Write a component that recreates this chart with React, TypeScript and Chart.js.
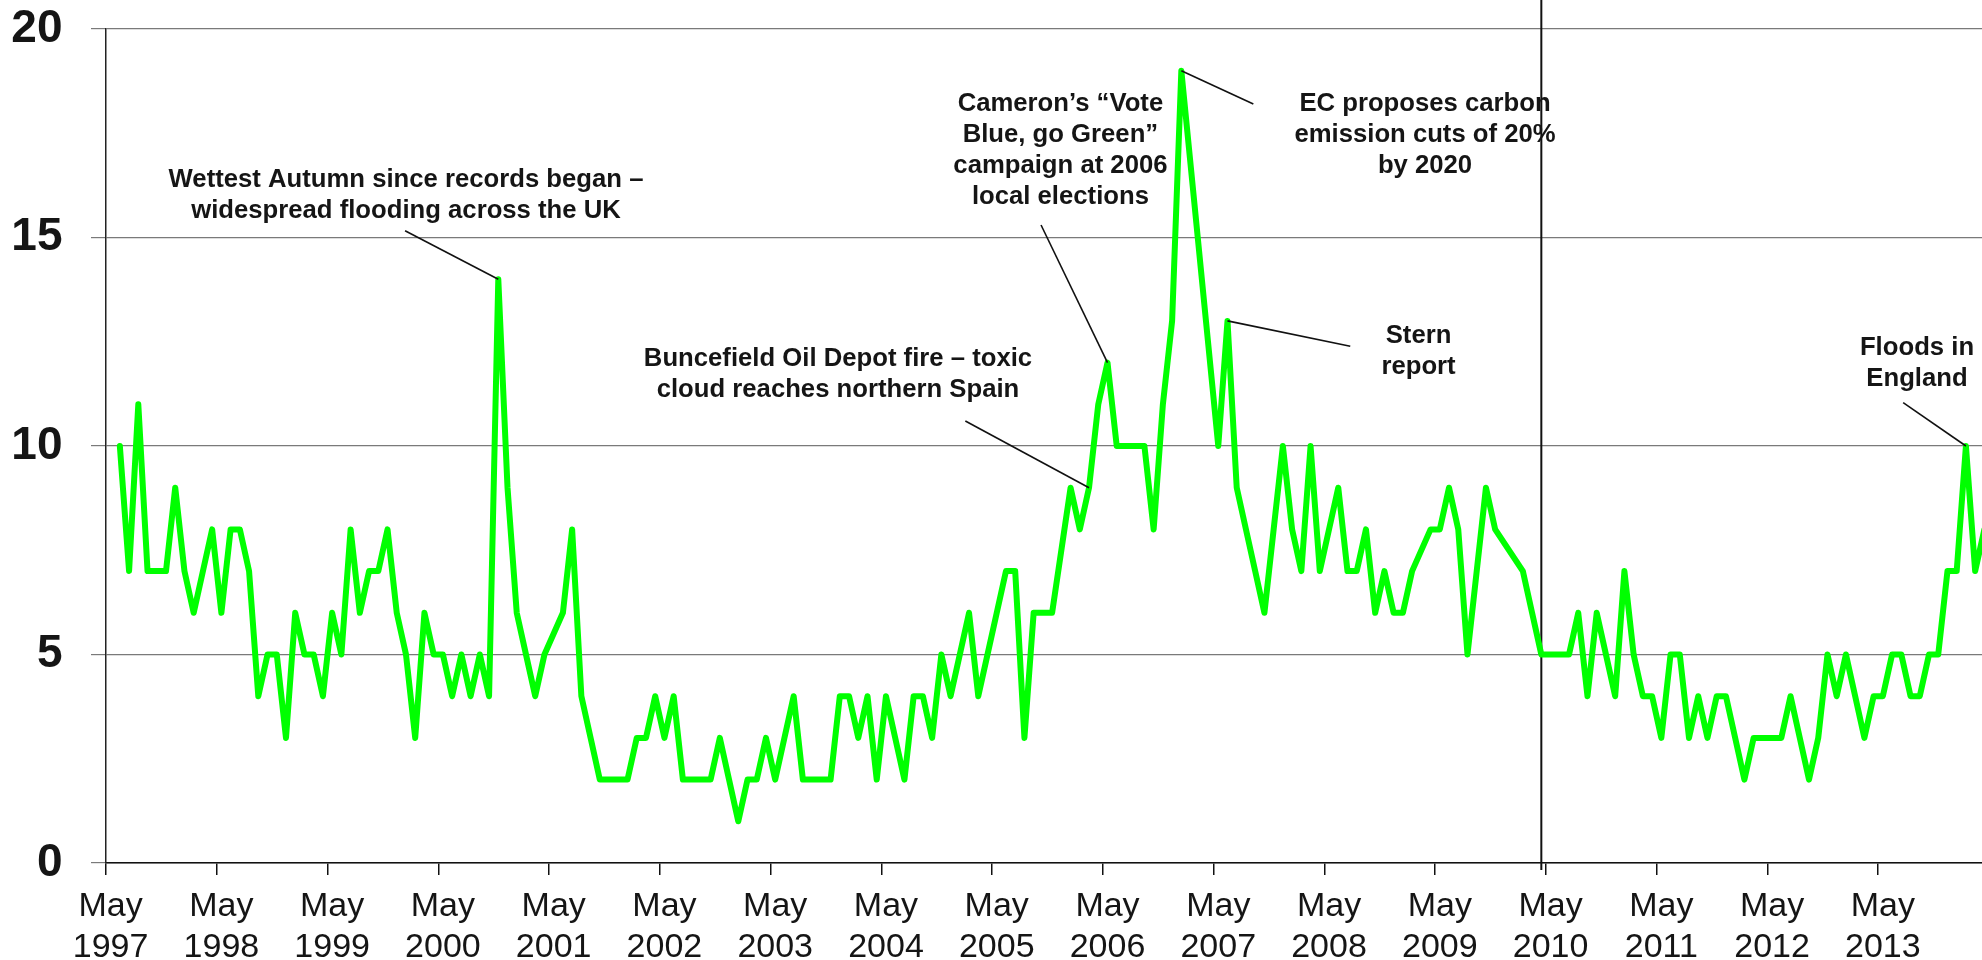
import React, { useEffect, useRef } from "react";
import { Chart, registerables } from "chart.js";

Chart.register(...registerables);

// ---------- data ----------
const START_YEAR = 1997;
const MONTH_NAMES = ["Jan", "Feb", "Mar", "Apr", "May", "Jun", "Jul", "Aug", "Sep", "Oct", "Nov", "Dec"];
const START_MONTH = 4; // May 1997 is the first category
const MONTH_COUNT = 204;

// Monthly values from June 1997 (null = month without a reading, line is joined across it)
const values: (number | null)[] = [
  10, 7, 11, 7, 7, 7, 9, 7, 6, 7, 8, 6,
  8, 8, 7, 4, 5, 5, 3, 6, 5, 5, 4, 6,
  5, 8, 6, 7, 7, 8, 6, 5, 3, 6, 5, 5,
  4, 5, 4, 5, 4, 14, 9, 6, 5, 4, 5, null,
  6, 8, 4, 3, 2, 2, 2, 2, 3, 3, 4, 3,
  4, 2, 2, 2, 2, 3, 2, 1, 2, 2, 3, 2,
  3, 4, 2, 2, 2, 2, 4, 4, 3, 4, 2, 4,
  3, 2, 4, 4, 3, 5, 4, 5, 6, 4, 5, 6,
  7, 7, 3, 6, 6, 6, null, 9, 8, 9, 11, 12,
  10, 10, 10, 10, 8, 11, 13, 19, null, null, null, 10,
  13, 9, 8, 7, 6, 8, 10, 8, 7, 10, 7, 8,
  9, 7, 7, 8, 6, 7, 6, 6, 7, null, 8, 8,
  9, 8, 5, 7, 9, 8, null, null, 7, 6, 5, 5,
  5, 5, 6, 4, 6, 5, 4, 7, 5, 4, 4, 3,
  5, 5, 3, 4, 3, 4, 4, 3, 2, 3, 3, 3,
  3, 4, 3, 2, 3, 5, 4, 5, 4, 3, 4, 4,
  5, 5, 4, 4, 5, 5, 7, 7, 10, 7, 8,
];

const categories: string[] = Array.from({ length: MONTH_COUNT }, (_, i) => {
  const m = START_MONTH + i;
  return `${MONTH_NAMES[m % 12]} ${START_YEAR + Math.floor(m / 12)}`;
});

const TICK_MONTH = "May";
const yTicks = [0, 5, 10, 15, 20];
const markerCategory = "Apr 2010";

type Note = {
  lines: string[];
  at: [number, number]; // [category index, value] of the first baseline centre
  from: [number, number]; // free end of the leader
  point: number; // category index of the point the leader touches
};

const notes: Note[] = [
  { lines: ["Wettest Autumn since records began \u2013", "widespread flooding across the UK"], at: [32.0, 16.21], from: [31.9, 15.16], point: 42 },
  { lines: ["Buncefield Oil Depot fire \u2013 toxic", "cloud reaches northern Spain"], at: [78.8, 11.92], from: [92.6, 10.6], point: 106 },
  { lines: ["Cameron\u2019s \u201CVote", "Blue, go Green\u201D", "campaign at 2006", "local elections"], at: [102.9, 18.03], from: [100.8, 15.3], point: 108 },
  { lines: ["EC proposes carbon", "emission cuts of 20%", "by 2020"], at: [142.4, 18.03], from: [123.8, 18.2], point: 116 },
  { lines: ["Stern", "report"], at: [141.7, 12.46], from: [134.3, 12.39], point: 121 },
  { lines: ["Floods in", "England"], at: [195.7, 12.18], from: [194.2, 11.04], point: 201 },
];

// ---------- styles ----------
const FONT = "'Liberation Sans', Arial, Helvetica, sans-serif";
const TEXT = "#151515";
const LINE_GAP = 31;

const overlayPlugin = {
  id: "overlay",
  beforeDatasetsDraw(chart: any) {
    const { ctx, chartArea, scales } = chart;
    const px = scales.x.getPixelForValue(categories.indexOf(markerCategory));
    ctx.save();
    ctx.strokeStyle = "#111";
    ctx.lineWidth = 2;
    ctx.beginPath();
    ctx.moveTo(px, 0);
    ctx.lineTo(px, chartArea.bottom + 7);
    ctx.stroke();
    ctx.restore();
  },
  afterDatasetsDraw(chart: any) {
    const { ctx, scales } = chart;
    const meta = chart.getDatasetMeta(0);
    ctx.save();
    ctx.font = `bold 25.7px ${FONT}`;
    ctx.fillStyle = TEXT;
    ctx.textAlign = "center";
    ctx.textBaseline = "alphabetic";
    notes.forEach((n) => {
      const cx = scales.x.getPixelForValue(n.at[0]);
      const by = scales.y.getPixelForValue(n.at[1]);
      n.lines.forEach((l, k) => ctx.fillText(l, cx, by + k * LINE_GAP));
      const p = meta.data[n.point];
      const fx = scales.x.getPixelForValue(n.from[0]);
      const fy = scales.y.getPixelForValue(n.from[1]);
      ctx.strokeStyle = "#111";
      ctx.lineWidth = 1.6;
      ctx.beginPath();
      ctx.moveTo(fx, fy);
      ctx.lineTo(p.x, p.y);
      ctx.stroke();
    });
    ctx.restore();
  },
};

export default function App() {
  const canvasRef = useRef<HTMLCanvasElement | null>(null);

  useEffect(() => {
    if (!canvasRef.current) return;
    const chart = new Chart(canvasRef.current, {
      type: "line",
      data: {
        labels: categories,
        datasets: [
          {
            data: [null, ...values],
            borderColor: "#00ff00",
            borderWidth: 6,
            borderJoinStyle: "round",
            borderCapStyle: "round",
            pointRadius: 0,
            tension: 0,
            spanGaps: true,
            fill: false,
          },
        ],
      },
      options: {
        responsive: false,
        maintainAspectRatio: false,
        animation: false,
        devicePixelRatio: 1,
        layout: { padding: { top: 29, left: 0, right: 0, bottom: 0 } },
        plugins: { legend: { display: false }, tooltip: { enabled: false } },
        scales: {
          x: {
            type: "category",
            offset: true,
            afterFit: (s: any) => {
              s.height = 97;
              s.paddingLeft = 0;
              s.paddingRight = 0;
            },
            grid: {
              offset: true,
              drawOnChartArea: false,
              drawTicks: true,
              tickLength: 12,
              lineWidth: 1.5,
              color: (c: any) => (String(categories[c.index] || "").startsWith(TICK_MONTH) ? "#111" : "rgba(0,0,0,0)"),
            },
            border: { display: true, color: "#111", width: 1.5 },
            ticks: {
              autoSkip: false,
              maxRotation: 0,
              minRotation: 0,
              padding: 11,
              color: TEXT,
              font: { family: FONT, size: 34, lineHeight: 1.2 },
              callback: (_v: any, i: number) => {
                const c = categories[i];
                return c.startsWith(TICK_MONTH) ? c.split(" ") : "";
              },
            },
          },
          y: {
            min: yTicks[0],
            max: yTicks[yTicks.length - 1],
            afterFit: (s: any) => {
              s.width = 106;
              s.paddingTop = 0;
              s.paddingBottom = 0;
            },
            afterBuildTicks: (s: any) => {
              s.ticks = yTicks.map((v) => ({ value: v }));
            },
            grid: {
              color: "#7a7a7a",
              lineWidth: 1.2,
              drawTicks: true,
              tickLength: 15,
            },
            border: { display: true, color: "#222", width: 1.5 },
            ticks: {
              padding: 28.5,
              color: TEXT,
              font: { family: FONT, size: 46, weight: "bold" },
            },
          },
        },
      },
      plugins: [overlayPlugin],
    } as any);
    return () => chart.destroy();
  }, []);

  return (
    <div style={{ position: "fixed", left: 0, top: 0, width: 1982, height: 960, overflow: "hidden", background: "#fff" }}>
      <canvas ref={canvasRef} width={1989} height={960} style={{ width: 1989, height: 960, display: "block" }} />
    </div>
  );
}
